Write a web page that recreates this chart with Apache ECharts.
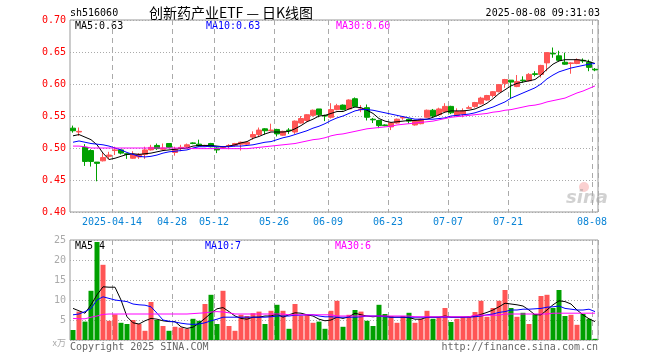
<!DOCTYPE html>
<html><head><meta charset="utf-8">
<script src="https://cdn.jsdelivr.net/npm/echarts@6/dist/echarts.min.js"></script>
<style>html,body{margin:0;padding:0;background:#fff}#c{width:660px;height:360px}</style>
</head><body><div id="c"></div>
<script>
const dates = [
'2025-04-02','2025-04-03','2025-04-07','2025-04-08','2025-04-09','2025-04-10','2025-04-11','2025-04-14','2025-04-15','2025-04-16',
'2025-04-17','2025-04-18','2025-04-21','2025-04-22','2025-04-23','2025-04-24','2025-04-25','2025-04-28','2025-04-29','2025-04-30',
'2025-05-06','2025-05-07','2025-05-08','2025-05-09','2025-05-12','2025-05-13','2025-05-14','2025-05-15','2025-05-16','2025-05-19',
'2025-05-20','2025-05-21','2025-05-22','2025-05-23','2025-05-26','2025-05-27','2025-05-28','2025-05-29','2025-05-30','2025-06-03',
'2025-06-04','2025-06-05','2025-06-06','2025-06-09','2025-06-10','2025-06-11','2025-06-12','2025-06-13','2025-06-16','2025-06-17',
'2025-06-18','2025-06-19','2025-06-20','2025-06-23','2025-06-24','2025-06-25','2025-06-26','2025-06-27','2025-06-30','2025-07-01',
'2025-07-02','2025-07-03','2025-07-04','2025-07-07','2025-07-08','2025-07-09','2025-07-10','2025-07-11','2025-07-14','2025-07-15',
'2025-07-16','2025-07-17','2025-07-18','2025-07-21','2025-07-22','2025-07-23','2025-07-24','2025-07-25','2025-07-28','2025-07-29',
'2025-07-30','2025-07-31','2025-08-01','2025-08-04','2025-08-05','2025-08-06','2025-08-07','2025-08-08'];

const tickLabels = {'2025-04-14':'2025-04-14','2025-04-28':'04-28','2025-05-12':'05-12','2025-05-26':'05-26',
  '2025-06-09':'06-09','2025-06-23':'06-23','2025-07-07':'07-07','2025-07-21':'07-21','2025-08-08':'08-08'};

const open = [0.531,0.525,0.501,0.496,0.478,0.480,0.487,0.496,0.497,0.491,
0.484,0.486,0.490,0.497,0.504,0.498,0.507,0.493,0.500,0.502,
0.508,0.506,0.503,0.507,0.500,0.500,0.503,0.504,0.506,0.506,
0.517,0.521,0.530,0.527,0.529,0.520,0.528,0.525,0.539,0.543,
0.551,0.561,0.551,0.548,0.560,0.567,0.561,0.577,0.560,0.563,
0.545,0.543,0.536,0.533,0.539,0.547,0.545,0.536,0.538,0.548,
0.559,0.552,0.557,0.565,0.551,0.553,0.562,0.565,0.569,0.575,
0.582,0.588,0.601,0.606,0.596,0.606,0.605,0.616,0.615,0.633,
0.648,0.644,0.634,0.632,0.632,0.637,0.634,0.623];
const close = [0.527,0.526,0.479,0.479,0.476,0.485,0.489,0.497,0.492,0.490,
0.490,0.490,0.497,0.501,0.499,0.500,0.501,0.498,0.501,0.505,
0.507,0.503,0.504,0.502,0.497,0.501,0.504,0.507,0.509,0.509,
0.521,0.528,0.527,0.528,0.522,0.526,0.527,0.542,0.546,0.552,
0.559,0.552,0.550,0.560,0.566,0.560,0.575,0.565,0.561,0.548,
0.544,0.535,0.535,0.539,0.545,0.548,0.542,0.543,0.545,0.559,
0.550,0.561,0.565,0.555,0.557,0.558,0.563,0.571,0.578,0.582,
0.588,0.599,0.607,0.603,0.604,0.605,0.615,0.615,0.629,0.649,
0.647,0.637,0.631,0.633,0.638,0.636,0.626,0.622];
const low = [0.524,0.519,0.472,0.471,0.448,0.479,0.482,0.489,0.490,0.483,
0.483,0.483,0.483,0.496,0.497,0.496,0.500,0.488,0.495,0.500,
0.506,0.502,0.502,0.501,0.492,0.499,0.498,0.502,0.496,0.505,
0.513,0.518,0.521,0.526,0.518,0.519,0.522,0.522,0.538,0.541,
0.549,0.548,0.542,0.546,0.559,0.559,0.560,0.564,0.556,0.543,
0.539,0.531,0.534,0.528,0.538,0.544,0.538,0.535,0.537,0.547,
0.548,0.550,0.556,0.553,0.549,0.548,0.561,0.563,0.568,0.574,
0.579,0.587,0.594,0.578,0.595,0.602,0.604,0.612,0.610,0.620,
0.641,0.635,0.630,0.616,0.631,0.633,0.620,0.620];
const high = [0.535,0.532,0.506,0.498,0.478,0.492,0.494,0.502,0.498,0.492,
0.495,0.492,0.502,0.505,0.507,0.507,0.507,0.502,0.505,0.507,
0.509,0.513,0.505,0.508,0.501,0.503,0.506,0.508,0.510,0.510,
0.526,0.532,0.531,0.538,0.530,0.527,0.531,0.543,0.550,0.553,
0.560,0.561,0.552,0.570,0.569,0.568,0.576,0.579,0.567,0.568,
0.547,0.544,0.537,0.540,0.546,0.550,0.546,0.544,0.546,0.560,
0.561,0.563,0.570,0.566,0.562,0.562,0.566,0.572,0.580,0.583,
0.589,0.600,0.608,0.606,0.614,0.612,0.617,0.620,0.630,0.650,
0.657,0.652,0.649,0.634,0.640,0.640,0.638,0.625];

const ma5 = [0.519,0.521,0.517,0.513,0.505,0.492,0.482,0.484,0.487,0.490,
0.491,0.490,0.491,0.492,0.494,0.496,0.497,0.498,0.499,0.500,
0.503,0.504,0.504,0.504,0.503,0.502,0.503,0.505,0.508,0.510,
0.515,0.518,0.522,0.525,0.525,0.525,0.526,0.530,0.535,0.541,
0.545,0.550,0.551,0.554,0.557,0.557,0.561,0.564,0.563,0.559,
0.554,0.546,0.542,0.540,0.541,0.542,0.543,0.543,0.544,0.545,
0.548,0.552,0.556,0.558,0.558,0.558,0.559,0.561,0.565,0.570,
0.577,0.585,0.591,0.597,0.601,0.603,0.605,0.607,0.614,0.623,
0.631,0.636,0.638,0.638,0.638,0.637,0.635,0.632];
const ma10 = [0.509,0.511,0.509,0.507,0.506,0.505,0.503,0.500,0.497,0.493,
0.490,0.487,0.486,0.487,0.489,0.492,0.494,0.495,0.496,0.497,
0.500,0.502,0.502,0.503,0.502,0.502,0.502,0.503,0.503,0.504,
0.505,0.507,0.509,0.510,0.513,0.516,0.518,0.521,0.524,0.527,
0.531,0.534,0.538,0.543,0.547,0.550,0.554,0.558,0.560,0.560,
0.559,0.557,0.555,0.553,0.551,0.549,0.547,0.545,0.545,0.545,
0.545,0.546,0.547,0.550,0.551,0.552,0.553,0.555,0.558,0.561,
0.564,0.568,0.572,0.578,0.582,0.586,0.590,0.594,0.600,0.608,
0.614,0.619,0.622,0.625,0.627,0.629,0.631,0.632];
const ma30 = [0.503,0.503,0.502,0.500,0.500,0.500,0.500,0.500,0.500,0.500,
0.500,0.500,0.500,0.500,0.500,0.500,0.500,0.500,0.500,0.500,
0.499,0.499,0.499,0.499,0.499,0.499,0.499,0.499,0.499,0.499,
0.500,0.501,0.502,0.503,0.504,0.505,0.506,0.507,0.509,0.511,
0.513,0.514,0.516,0.519,0.521,0.522,0.524,0.526,0.528,0.530,
0.531,0.532,0.533,0.534,0.536,0.537,0.538,0.539,0.540,0.541,
0.542,0.544,0.546,0.548,0.549,0.550,0.551,0.552,0.553,0.554,
0.556,0.557,0.559,0.560,0.562,0.564,0.566,0.567,0.569,0.572,
0.574,0.576,0.578,0.582,0.586,0.589,0.593,0.597];

const volume = [2.5,7.1,4.6,12.3,24.5,18.8,4.8,6.4,4.3,4.0,
5.0,4.0,2.3,9.5,5.0,3.5,2.3,3.3,3.1,2.8,
5.3,4.8,9.0,11.3,4.0,12.3,3.5,2.3,6.3,6.0,
6.7,7.1,4.0,7.3,8.8,7.3,2.8,9.0,6.0,6.3,
4.3,4.6,2.8,7.3,9.8,3.3,6.3,7.5,7.1,4.8,
3.5,8.8,6.5,6.0,4.3,6.0,6.8,4.3,5.3,7.3,
5.3,5.5,8.0,4.5,5.3,5.8,5.8,7.0,9.8,5.8,
8.0,9.8,12.5,8.0,5.8,6.8,4.0,6.5,11.0,11.3,
8.0,12.5,6.0,6.3,3.8,6.5,5.3,0.3];
const vma5 = [7.9,7.3,6.7,8.8,11.3,13.3,13.2,13.2,10.0,5.8,
4.3,4.0,4.8,5.4,5.2,4.8,4.6,4.6,3.3,2.9,
3.2,4.2,5.4,6.7,7.8,8.1,7.1,6.0,5.4,5.2,
5.7,5.7,6.0,6.0,6.5,5.7,6.3,6.8,6.7,6.3,
6.0,5.2,4.8,5.0,5.7,5.4,5.8,6.7,6.3,6.0,
5.8,6.0,6.0,5.7,5.7,5.7,5.6,5.2,5.2,5.7,
5.7,5.7,6.0,5.7,5.7,5.7,5.8,6.0,6.4,6.9,
7.5,8.3,9.2,9.0,8.8,8.5,7.5,6.3,6.3,7.5,
8.8,9.8,9.6,9.0,7.5,6.3,5.3,4.6];
const vma10 = [6.3,6.5,7.1,7.9,10.0,10.8,10.4,10.0,9.8,9.6,
9.0,8.8,8.7,8.3,6.7,5.0,4.7,4.5,4.2,4.0,
3.9,4.0,4.3,4.8,5.2,5.7,5.7,5.7,5.7,5.7,
5.7,5.7,5.7,5.8,6.0,6.0,6.0,6.2,6.2,6.3,
6.3,6.0,5.8,5.8,5.7,5.7,5.7,5.7,5.8,6.0,
6.0,6.0,5.8,5.7,5.7,5.7,5.7,5.7,5.7,5.7,
5.7,5.7,5.7,5.7,5.7,5.7,5.7,5.8,6.0,6.3,
6.5,6.9,7.1,7.5,7.5,7.7,7.7,7.8,7.9,8.2,
8.3,8.5,7.9,7.7,7.5,7.5,7.7,7.1];
const vma30 = [5.4,5.3,5.3,5.7,6.0,6.4,6.5,6.5,6.5,6.5,
6.5,6.5,6.5,6.5,6.5,6.5,6.5,6.5,6.5,6.5,
6.6,6.7,6.8,7.0,7.1,7.0,6.8,6.5,6.5,6.5,
6.5,6.5,6.5,6.5,6.5,6.5,6.3,6.3,6.3,6.3,
6.3,6.3,6.3,6.3,6.0,6.0,6.0,6.0,6.0,6.0,
6.0,6.0,6.0,6.0,6.0,6.0,6.0,5.8,5.8,5.8,
5.8,5.8,5.8,5.8,5.8,5.8,5.8,6.2,6.2,6.2,
6.2,6.2,6.5,6.5,6.5,6.5,6.5,6.5,6.5,6.5,
6.7,6.7,6.7,6.7,6.7,6.7,6.7,6.7];

const priceTicks = [0.40,0.45,0.50,0.55,0.60,0.65,0.70];
const volTicks = [0,5,10,15,20,25];

const UP = '#ff5555', DOWN = '#00a000';
const MONO = '"DejaVu Sans Mono", monospace';
const CJK = '"Noto Sans CJK SC", sans-serif';

const candleData = dates.map((d,i)=>[open[i],close[i],low[i],high[i]]);
const volData = volume.map((v,i)=>({value:v,itemStyle:{color: close[i] >= open[i] ? UP : DOWN}}));
const showTick = (i)=> tickLabels[dates[i]] !== undefined;

const chart = echarts.init(document.getElementById('c'), null, {renderer:'canvas'});
const vGrid = {show:true, interval:(i)=>showTick(i), lineStyle:{color:'#aaa', type:[5,4], width:1}};
const hGrid = {show:true, lineStyle:{color:'#aaa', type:[1,2], width:1}};

function txt(x,y,text,color,opts){
  return Object.assign({type:'text', x:x, y:y, silent:true,
    style:Object.assign({text:text, fill:color, font:'10px '+MONO, textVerticalAlign:'middle'}, opts||{})});
}

chart.setOption({
  animation:false,
  backgroundColor:'#fff',
  grid:[
    {left:70, top:20, width:528, height:192, show:true, borderColor:'#999', borderWidth:1},
    {left:70, top:240, width:528, height:100, show:true, borderColor:'#999', borderWidth:1}
  ],
  xAxis:[
    {type:'category', gridIndex:0, data:dates, boundaryGap:true,
     axisLine:{show:false}, axisTick:{show:false},
     axisLabel:{interval:(i)=>showTick(i), formatter:(v)=>tickLabels[v]||'', color:'#0a84d6',
       fontFamily:MONO, fontSize:10, margin:5, padding:[0,6,0,0]},
     splitLine:vGrid},
    {type:'category', gridIndex:1, data:dates, boundaryGap:true,
     axisLine:{show:false}, axisTick:{show:false}, axisLabel:{show:false},
     splitLine:vGrid}
  ],
  yAxis:[
    {type:'value', gridIndex:0, min:priceTicks[0], max:priceTicks[priceTicks.length-1], interval:0.05,
     axisLine:{show:false}, axisTick:{show:false},
     axisLabel:{color:'#f00', fontFamily:MONO, fontSize:10, margin:4, formatter:(v)=>v.toFixed(2)},
     splitLine:hGrid},
    {type:'value', gridIndex:1, min:volTicks[0], max:volTicks[volTicks.length-1], interval:5,
     axisLine:{show:false}, axisTick:{show:false},
     axisLabel:{color:'#aaa', fontFamily:MONO, fontSize:10, margin:4,
       formatter:(v)=> v===0 ? '{u|x万}' : String(v),
       rich:{u:{fontSize:9, fontFamily:CJK, color:'#aaa', padding:[0,0,-6,0]}}},
     splitLine:hGrid}
  ],
  series:[
    {type:'candlestick', xAxisIndex:0, yAxisIndex:0, data:candleData, barWidth:5,
     itemStyle:{color:UP, color0:DOWN, borderColor:UP, borderColor0:DOWN, borderWidth:1}},
    {type:'line', xAxisIndex:0, yAxisIndex:0, data:ma5, symbol:'none', lineStyle:{color:'#000', width:1}},
    {type:'line', xAxisIndex:0, yAxisIndex:0, data:ma10, symbol:'none', lineStyle:{color:'#0000ff', width:1}},
    {type:'line', xAxisIndex:0, yAxisIndex:0, data:ma30, symbol:'none', lineStyle:{color:'#ff00ff', width:1}},
    {type:'bar', xAxisIndex:1, yAxisIndex:1, data:volData, barWidth:5},
    {type:'line', xAxisIndex:1, yAxisIndex:1, data:vma5, symbol:'none', lineStyle:{color:'#000', width:1}},
    {type:'line', xAxisIndex:1, yAxisIndex:1, data:vma10, symbol:'none', lineStyle:{color:'#0000ff', width:1}},
    {type:'line', xAxisIndex:1, yAxisIndex:1, data:vma30, symbol:'none', lineStyle:{color:'#ff00ff', width:1}}
  ],
  graphic:[
    txt(70,13,'sh516060','#000'),
    txt(231,13,'创新药产业ETF — 日K线图','#000',{font:'14px '+CJK, textAlign:'center'}),
    txt(600,13,'2025-08-08 09:31:03','#000',{textAlign:'right'}),
    txt(75,26,'MA5:0.63','#000'),
    txt(206,26,'MA10:0.63','#0000ff'),
    txt(336,26,'MA30:0.60','#ff00ff'),
    txt(75,246,'MA5:4','#000'),
    txt(205,246,'MA10:7','#0000ff'),
    txt(335,246,'MA30:6','#ff00ff'),
    txt(70,347,'Copyright 2025 SINA.COM','#666'),
    txt(598,347,'http://finance.sina.com.cn','#666',{textAlign:'right'}),
    {type:'circle', shape:{cx:584, cy:187, r:5}, style:{fill:'rgba(240,120,120,0.35)'}, silent:true},
    txt(566,198,'sina','rgba(140,140,140,0.4)',{font:'italic bold 18px "DejaVu Sans", sans-serif'})
  ]
});
</script></body></html>
